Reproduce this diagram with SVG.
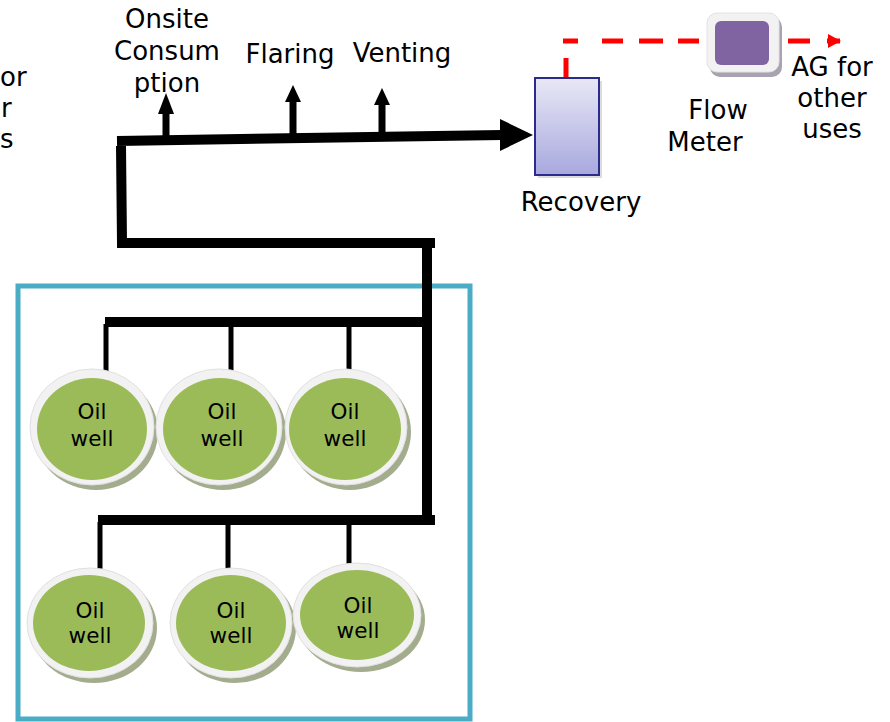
<svg xmlns="http://www.w3.org/2000/svg" width="890" height="722" viewBox="0 0 890 722">
<defs>
<style>
.t{font-family:"DejaVu Sans","Verdana",sans-serif;font-size:26px;fill:#000}
.w{font-family:"DejaVu Sans","Verdana",sans-serif;font-size:21.5px;fill:#000;text-anchor:middle}
.c{text-anchor:middle}
.pipe{fill:none;stroke:#000;stroke-width:10}
.drop{fill:none;stroke:#000;stroke-width:5}
.shadow{fill:#A3AD8E}
.rim{fill:#F2F2F2;stroke:#E0E0E0;stroke-width:1}
.oil{fill:#9BBB59}
</style>
<linearGradient id="recg" x1="0" y1="0" x2="0" y2="1">
<stop offset="0" stop-color="#E8E8F6"/>
<stop offset="1" stop-color="#A8A8DE"/>
</linearGradient>
<marker id="redArrow" markerWidth="4" markerHeight="4" refX="2.4" refY="2" orient="auto" markerUnits="strokeWidth">
<path d="M0,0.6 L2.6,2 L0,3.4 Z" fill="#FF0000"/>
</marker>
</defs>
<rect width="890" height="722" fill="#fff"/>

<!-- partially visible text at left edge -->
<g id="clipped-label">
<text class="t" x="0" y="86">or</text>
<text class="t" x="1" y="117">r</text>
<text class="t" x="0" y="148">s</text>
</g>

<!-- field boundary -->
<rect id="field" x="18" y="286" width="452" height="433" fill="none" stroke="#4BACC6" stroke-width="5"/>

<g id="connectors">
<!-- main pipe to recovery -->
<path class="pipe" d="M117,141 L502,135"/>
<path d="M500,119 L533,135 L500,151 Z" fill="#000"/>
<path class="pipe" d="M121,146 L122,243 L435,243"/>
<path class="pipe" d="M427,243 L427,522"/>
<path class="pipe" d="M105,322 L427,322"/>
<path class="pipe" d="M98,520 L435,520"/>
<!-- well drops -->
<path class="drop" d="M106,324 L106,372"/>
<path class="drop" d="M231,324 L231,372"/>
<path class="drop" d="M349,324 L349,372"/>
<path class="drop" d="M100,522 L100,569"/>
<path class="drop" d="M228,522 L228,569"/>
<path class="drop" d="M349,522 L349,564"/>
<!-- up arrows -->
<path d="M166,138 L166,112" stroke="#000" stroke-width="7"/>
<path d="M158,114 L166,93 L174,114 Z" fill="#000"/>
<path d="M293,134 L293,100" stroke="#000" stroke-width="7"/>
<path d="M285,102 L293,85 L301,102 Z" fill="#000"/>
<path d="M382,133 L382,103" stroke="#000" stroke-width="7"/>
<path d="M374,105 L382,88 L390,105 Z" fill="#000"/>
<!-- red dashed gas line -->
<path d="M566,77 L566,58" stroke="#FF0000" stroke-width="5" fill="none"/>
<path d="M563,41 L708,41" stroke="#FF0000" stroke-width="5" fill="none" stroke-dasharray="15 24 21 16 24 15 21 16 21"/>
<path d="M788,41 L840,41" stroke="#FF0000" stroke-width="5" fill="none" stroke-dasharray="22 17 30" marker-end="url(#redArrow)"/>
</g>

<g id="recovery">
<rect x="538" y="81" width="64" height="97" fill="#9A9A9A" opacity="0.35"/>
<rect x="535" y="78" width="64" height="97" fill="url(#recg)" stroke="#2B2B8C" stroke-width="2"/>
<text class="t c" x="581" y="211">Recovery</text>
</g>

<g id="flow-meter">
<rect x="710" y="17" width="72" height="60" rx="10" fill="#A8A2B2"/>
<rect x="707" y="13" width="72" height="59" rx="10" fill="#F2F2F2" stroke="#E2E2E2"/>
<rect x="715" y="21" width="54" height="44" rx="6" fill="#8064A2"/>
<text class="t c" x="718" y="119">Flow</text>
<text class="t c" x="705" y="151">Meter</text>
</g>

<g id="ag-other-uses">
<text class="t c" x="832" y="76">AG for</text>
<text class="t c" x="832" y="107">other</text>
<text class="t c" x="832" y="138">uses</text>
</g>

<g id="onsite">
<text class="t c" x="167" y="28">Onsite</text>
<text class="t c" x="167" y="60">Consum</text>
<text class="t c" x="167" y="92">ption</text>
</g>
<g id="flaring"><text class="t c" x="290" y="63">Flaring</text></g>
<g id="venting"><text class="t c" x="402" y="62">Venting</text></g>

<g id="well1">
<ellipse class="shadow" cx="96" cy="432" rx="62" ry="58"/>
<ellipse class="rim" cx="92" cy="427" rx="62" ry="58"/>
<ellipse class="oil" cx="92" cy="429" rx="55" ry="51"/>
<text class="w" x="92" y="419">Oil</text>
<text class="w" x="92" y="446">well</text>
</g>
<g id="well2">
<ellipse class="shadow" cx="223" cy="432" rx="63" ry="58"/>
<ellipse class="rim" cx="219" cy="427" rx="63" ry="58"/>
<ellipse class="oil" cx="220" cy="429" rx="57" ry="51"/>
<text class="w" x="222" y="419">Oil</text>
<text class="w" x="222" y="446">well</text>
</g>
<g id="well3">
<ellipse class="shadow" cx="350" cy="432" rx="61" ry="58"/>
<ellipse class="rim" cx="346" cy="427" rx="61" ry="58"/>
<ellipse class="oil" cx="345" cy="429" rx="56" ry="51"/>
<text class="w" x="345" y="419">Oil</text>
<text class="w" x="345" y="446">well</text>
</g>
<g id="well4">
<ellipse class="shadow" cx="94" cy="628" rx="63" ry="55"/>
<ellipse class="rim" cx="90" cy="623" rx="63" ry="55"/>
<ellipse class="oil" cx="89" cy="623" rx="56" ry="48"/>
<text class="w" x="90" y="618">Oil</text>
<text class="w" x="90" y="643">well</text>
</g>
<g id="well5">
<ellipse class="shadow" cx="235" cy="628" rx="61" ry="55"/>
<ellipse class="rim" cx="231" cy="623" rx="61" ry="55"/>
<ellipse class="oil" cx="231" cy="623" rx="55" ry="48"/>
<text class="w" x="231" y="618">Oil</text>
<text class="w" x="231" y="643">well</text>
</g>
<g id="well6">
<ellipse class="shadow" cx="361" cy="620" rx="64" ry="52"/>
<ellipse class="rim" cx="357" cy="615" rx="64" ry="52"/>
<ellipse class="oil" cx="357" cy="615" rx="57" ry="45"/>
<text class="w" x="358" y="613">Oil</text>
<text class="w" x="358" y="638">well</text>
</g>
</svg>
